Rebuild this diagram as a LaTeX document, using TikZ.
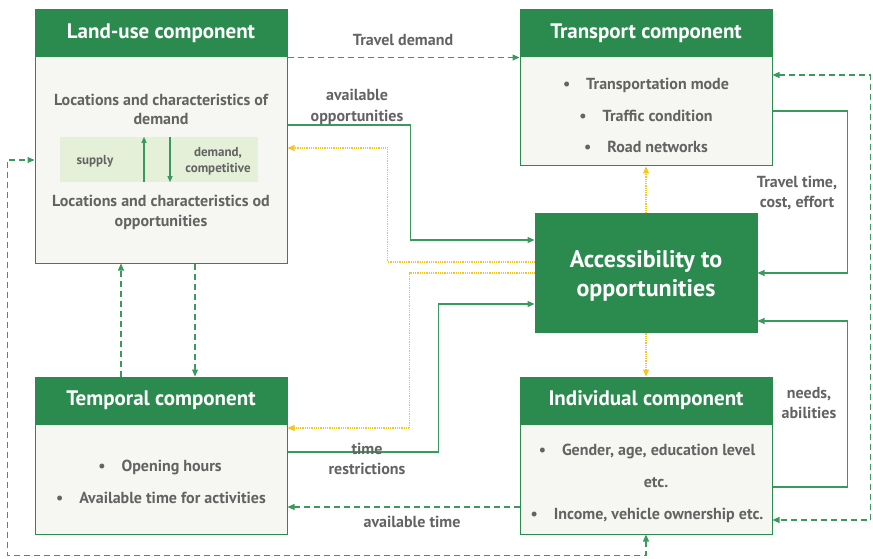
\documentclass[tikz,border=0pt]{standalone}
\usepackage{fontspec}
\setmainfont{PT Sans}
\usetikzlibrary{arrows.meta,positioning}
\definecolor{hdgreen}{HTML}{2B8A4E}
\definecolor{lngreen}{HTML}{3A9A5E}
\definecolor{bodybg}{HTML}{F6F6F2}
\definecolor{panelbg}{HTML}{E4F1D8}
\definecolor{txtgray}{HTML}{636363}
\definecolor{accyellow}{HTML}{F6C61C}
\tikzset{
  head/.style={draw=hdgreen,fill=hdgreen,text=white,line width=1pt,inner sep=0pt,
    minimum width=252pt,minimum height=47pt,font=\bfseries\fontsize{21}{24}\selectfont},
  body/.style={draw=hdgreen,fill=bodybg,line width=1pt,inner sep=0pt,minimum width=252pt},
  txt/.style={text=txtgray,font=\bfseries\fontsize{16}{19.5}\selectfont,align=center,inner sep=1pt},
  lbl/.style={text=txtgray,font=\bfseries\fontsize{16}{20}\selectfont,align=center,inner sep=1pt},
  flow/.style={draw=lngreen,line width=1.1pt,-{Triangle[length=7pt,width=6pt]}},
  dflow/.style={flow,dash pattern=on 6pt off 4pt},
  yflow/.style={draw=accyellow,line width=1.1pt,dash pattern=on 1pt off 0.8pt,
    -{Triangle[length=7pt,width=6pt]}},
}
\begin{document}
\begin{tikzpicture}[x=1pt,y=-1pt]
  \useasboundingbox (0,0) rectangle (873,559);
  % component boxes
  \node[head] (luh) at (161,33.5) {Land-use component};
  \node[body,minimum height=206pt] (lub) at (161,160) {};
  \node[head] (trh) at (646,33.5) {Transport component};
  \node[body,minimum height=109pt] (trb) at (646,111.5) {};
  \node[head] (tmh) at (161,400.5) {Temporal component};
  \node[body,minimum height=110pt] (tmb) at (161,479) {};
  \node[head] (inh) at (646,400.5) {Individual component};
  \node[body,minimum height=110pt] (inb) at (646,479) {};
  \node[head,minimum width=222pt,minimum height=119pt] (acc) at (646,272.5) {};
  \node[text=white,align=center,font=\bfseries\fontsize{24}{29}\selectfont]
    (acctxt) at ([yshift=-3.5pt]acc.center) {Accessibility to\\opportunities};
  % land-use contents
  \node[txt] (lud) at (161,109.5) {Locations and characteristics of\\demand};
  \node[fill=panelbg,minimum width=198pt,minimum height=45pt,inner sep=0pt] (panel) at (159,159.5) {};
  \node[txt,font=\bfseries\fontsize{13}{16}\selectfont] (sup) at (95,161) {supply};
  \node[txt,font=\bfseries\fontsize{13}{16}\selectfont] (dem) at (218,161.5) {demand,\\competitive};
  \draw[flow,-{Triangle[length=6pt,width=5pt]}] ([xshift=-15pt]panel.south) -- ([xshift=-15pt]panel.north);
  \draw[flow,-{Triangle[length=6pt,width=5pt]}] ([xshift=11pt]panel.north) -- ([xshift=11pt]panel.south);
  \node[txt] (luo) at (161,212.5) {Locations and characteristics od\\opportunities};
  % transport contents
  \node[txt] (tr1) at (646,85) {\textbullet\quad Transportation mode};
  \node[txt] (tr2) at (646,116) {\textbullet\quad Traffic condition};
  \node[txt] (tr3) at (646,147) {\textbullet\quad Road networks};
  % temporal contents
  \node[txt] (tm1) at (160,467) {\textbullet\quad Opening hours};
  \node[txt] (tm2) at (161,498) {\textbullet\quad Available time for activities};
  % individual contents
  \node[txt] (in1) at (647,451) {\textbullet\quad Gender, age, education level};
  \node[txt] (in2) at (656,483) {etc.};
  \node[txt] (in3) at (647,515) {\textbullet\quad Income, vehicle ownership etc.};
  % connectors
  \draw[dflow] (luh.south east) -- (trh.south west);
  \draw[flow] ([yshift=35pt]lub.east) -- ++(123,0) |- ([yshift=32.5pt]acc.west);
  \draw[yflow] ([yshift=10.5pt]acc.west) -- ++(-147,0) |- ([yshift=12pt]lub.east);
  \draw[yflow] ([yshift=-0.5pt]acc.west) -- ++(-125,0) |- ([yshift=51pt]tmb.east);
  \draw[flow] ([yshift=27pt]tmb.east) -- ++(151,0) |- ([yshift=-31.5pt]acc.west);
  \draw[dflow] ([yshift=-28pt]inb.west) -- ([yshift=-28pt]tmb.east);
  \draw[yflow] (acc.north) -- (trb.south);
  \draw[yflow] (acc.south) -- (inh.north);
  \draw[flow] ([yshift=0.5pt]trb.east) -- ++(75,0) |- ([yshift=-0.5pt]acc.east);
  \draw[flow] ([yshift=-8pt]inb.east) -- ++(75,0) |- ([yshift=-48.5pt]acc.east);
  \draw[dflow,{Triangle[length=7pt,width=6pt]}-{Triangle[length=7pt,width=6pt]}]
    ([yshift=36.5pt]trb.east) -- ++(98,0) |- ([yshift=-41pt]inb.east);
  \draw[dflow,{Triangle[length=7pt,width=6pt]}-{Triangle[length=7pt,width=6pt]}]
    (inb.south) -- ++(0,21) -| ([xshift=-27pt]lub.west) -- (lub.west);
  \draw[dflow] ([xshift=-40pt]tmh.north) -- ([xshift=-40pt]lub.south);
  \draw[dflow] ([xshift=34pt]lub.south) -- ([xshift=34pt]tmh.north);
  % connector labels
  \node[lbl] (ltd) at (403,40) {Travel demand};
  \node[lbl,font=\bfseries\fontsize{16}{21}\selectfont] (lao) at (357,106.5) {available\\opportunities};
  \node[lbl] (ltt) at (797,193) {Travel time,\\cost, effort};
  \node[lbl] (lna) at (809,403) {needs,\\abilities};
  \node[lbl] (ltr) at (367,459) {time\\restrictions};
  \node[lbl] (lat) at (412,522) {available time};
\end{tikzpicture}
\end{document}
